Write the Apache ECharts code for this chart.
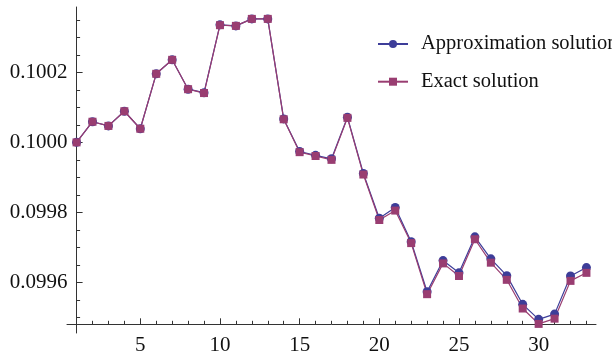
<!DOCTYPE html>
<html>
<head>
<meta charset="utf-8">
<script src="https://cdn.jsdelivr.net/npm/echarts@6/dist/echarts.min.js"></script>
<style>html,body{margin:0;padding:0;background:#fff}#c{width:612px;height:358px}</style>
</head>
<body>
<div id="c"></div>
<script>
const xValues = [1,2,3,4,5,6,7,8,9,10,11,12,13,14,15,16,17,18,19,20,21,22,23,24,25,26,27,28,29,30,31,32,33];
const approxValues = [0.100000,0.100059,0.100047,0.100089,0.100039,0.100196,0.100236,0.100152,0.100142,0.100336,0.100333,0.100353,0.100353,0.100067,0.099974,0.099963,0.099953,0.100072,0.099911,0.099783,0.099814,0.099716,0.099573,0.099662,0.099627,0.099730,0.099667,0.099619,0.099537,0.099494,0.099509,0.099618,0.099642];
const exactValues  = [0.100000,0.100059,0.100047,0.100089,0.100039,0.100196,0.100236,0.100152,0.100141,0.100335,0.100333,0.100353,0.100353,0.100066,0.099972,0.099961,0.099950,0.100070,0.099908,0.099778,0.099805,0.099712,0.099566,0.099654,0.099618,0.099723,0.099656,0.099607,0.099525,0.099481,0.099496,0.099604,0.099627];
const yMajorTicks = [0.0996, 0.0998, 0.1000, 0.1002];
const yMinorTicks = [0.09950,0.09955,0.09960,0.09965,0.09970,0.09975,0.09980,0.09985,0.09990,0.09995,0.10000,0.10005,0.10010,0.10015,0.10020,0.10025,0.10030,0.10035];
const xMajorTicks = [5, 10, 15, 20, 25, 30];
const xMinorTicks = [2,3,4,5,6,7,8,9,10,11,12,13,14,15,16,17,18,19,20,21,22,23,24,25,26,27,28,29,30,31,32,33];
const seriesNames = ['Approximation solution', 'Exact solution'];

const FONT = 'Liberation Serif';
const AX = '#333';
const X_MIN = 0.4, X_MAX = 33.6, Y_MIN = 0.099455, Y_MAX = 0.100387;

const chart = echarts.init(document.getElementById('c'), null, {renderer: 'canvas'});
const baseX = {type: 'value', min: X_MIN, max: X_MAX, position: 'bottom', offset: -8.7, splitLine: {show: false}};
const baseY = {type: 'value', min: Y_MIN, max: Y_MAX, position: 'left', offset: -9.6, splitLine: {show: false}};
chart.setOption({
  animation: false,
  grid: {left: 67, right: 16, top: 7, bottom: 25, containLabel: false},
  xAxis: [
    Object.assign({}, baseX, {
      axisLine: {show: true, lineStyle: {color: AX, width: 1}},
      axisTick: {show: true, inside: true, length: 6, lineStyle: {color: AX}, customValues: xMajorTicks},
      axisLabel: {show: true, margin: 11, color: '#111', fontFamily: FONT, fontSize: 21, customValues: xMajorTicks, formatter: v => String(v)}
    }),
    Object.assign({}, baseX, {
      axisLine: {show: false},
      axisTick: {show: true, inside: true, length: 3.5, lineStyle: {color: AX}, customValues: xMinorTicks},
      axisLabel: {show: false}
    })
  ],
  yAxis: [
    Object.assign({}, baseY, {
      axisLine: {show: true, lineStyle: {color: AX, width: 1}},
      axisTick: {show: true, inside: true, length: 6, lineStyle: {color: AX}, customValues: yMajorTicks},
      axisLabel: {show: true, margin: 9, color: '#111', fontFamily: FONT, fontSize: 21, customValues: yMajorTicks, formatter: v => v.toFixed(4)}
    }),
    Object.assign({}, baseY, {
      axisLine: {show: false},
      axisTick: {show: true, inside: true, length: 3.5, lineStyle: {color: AX}, customValues: yMinorTicks},
      axisLabel: {show: false}
    })
  ],
  legend: {
    orient: 'vertical', left: 372, top: 28.5, itemWidth: 30, itemHeight: 10, itemGap: 16.7,
    textStyle: {fontFamily: FONT, fontSize: 20.5, lineHeight: 21, color: '#111', padding: [0, 0, 0, 8]},
    data: seriesNames
  },
  series: [
    {
      name: seriesNames[0], type: 'line', clip: false,
      data: xValues.map((x, i) => [x, approxValues[i]]),
      symbol: 'circle', symbolSize: 9,
      itemStyle: {color: '#3d3d99'},
      lineStyle: {color: '#3d3d99', width: 1.2}
    },
    {
      name: seriesNames[1], type: 'line', clip: false,
      data: xValues.map((x, i) => [x, exactValues[i]]),
      symbol: 'rect', symbolSize: 8,
      itemStyle: {color: '#993d71'},
      lineStyle: {color: '#993d71', width: 1.2}
    }
  ]
});
</script>
</body>
</html>
